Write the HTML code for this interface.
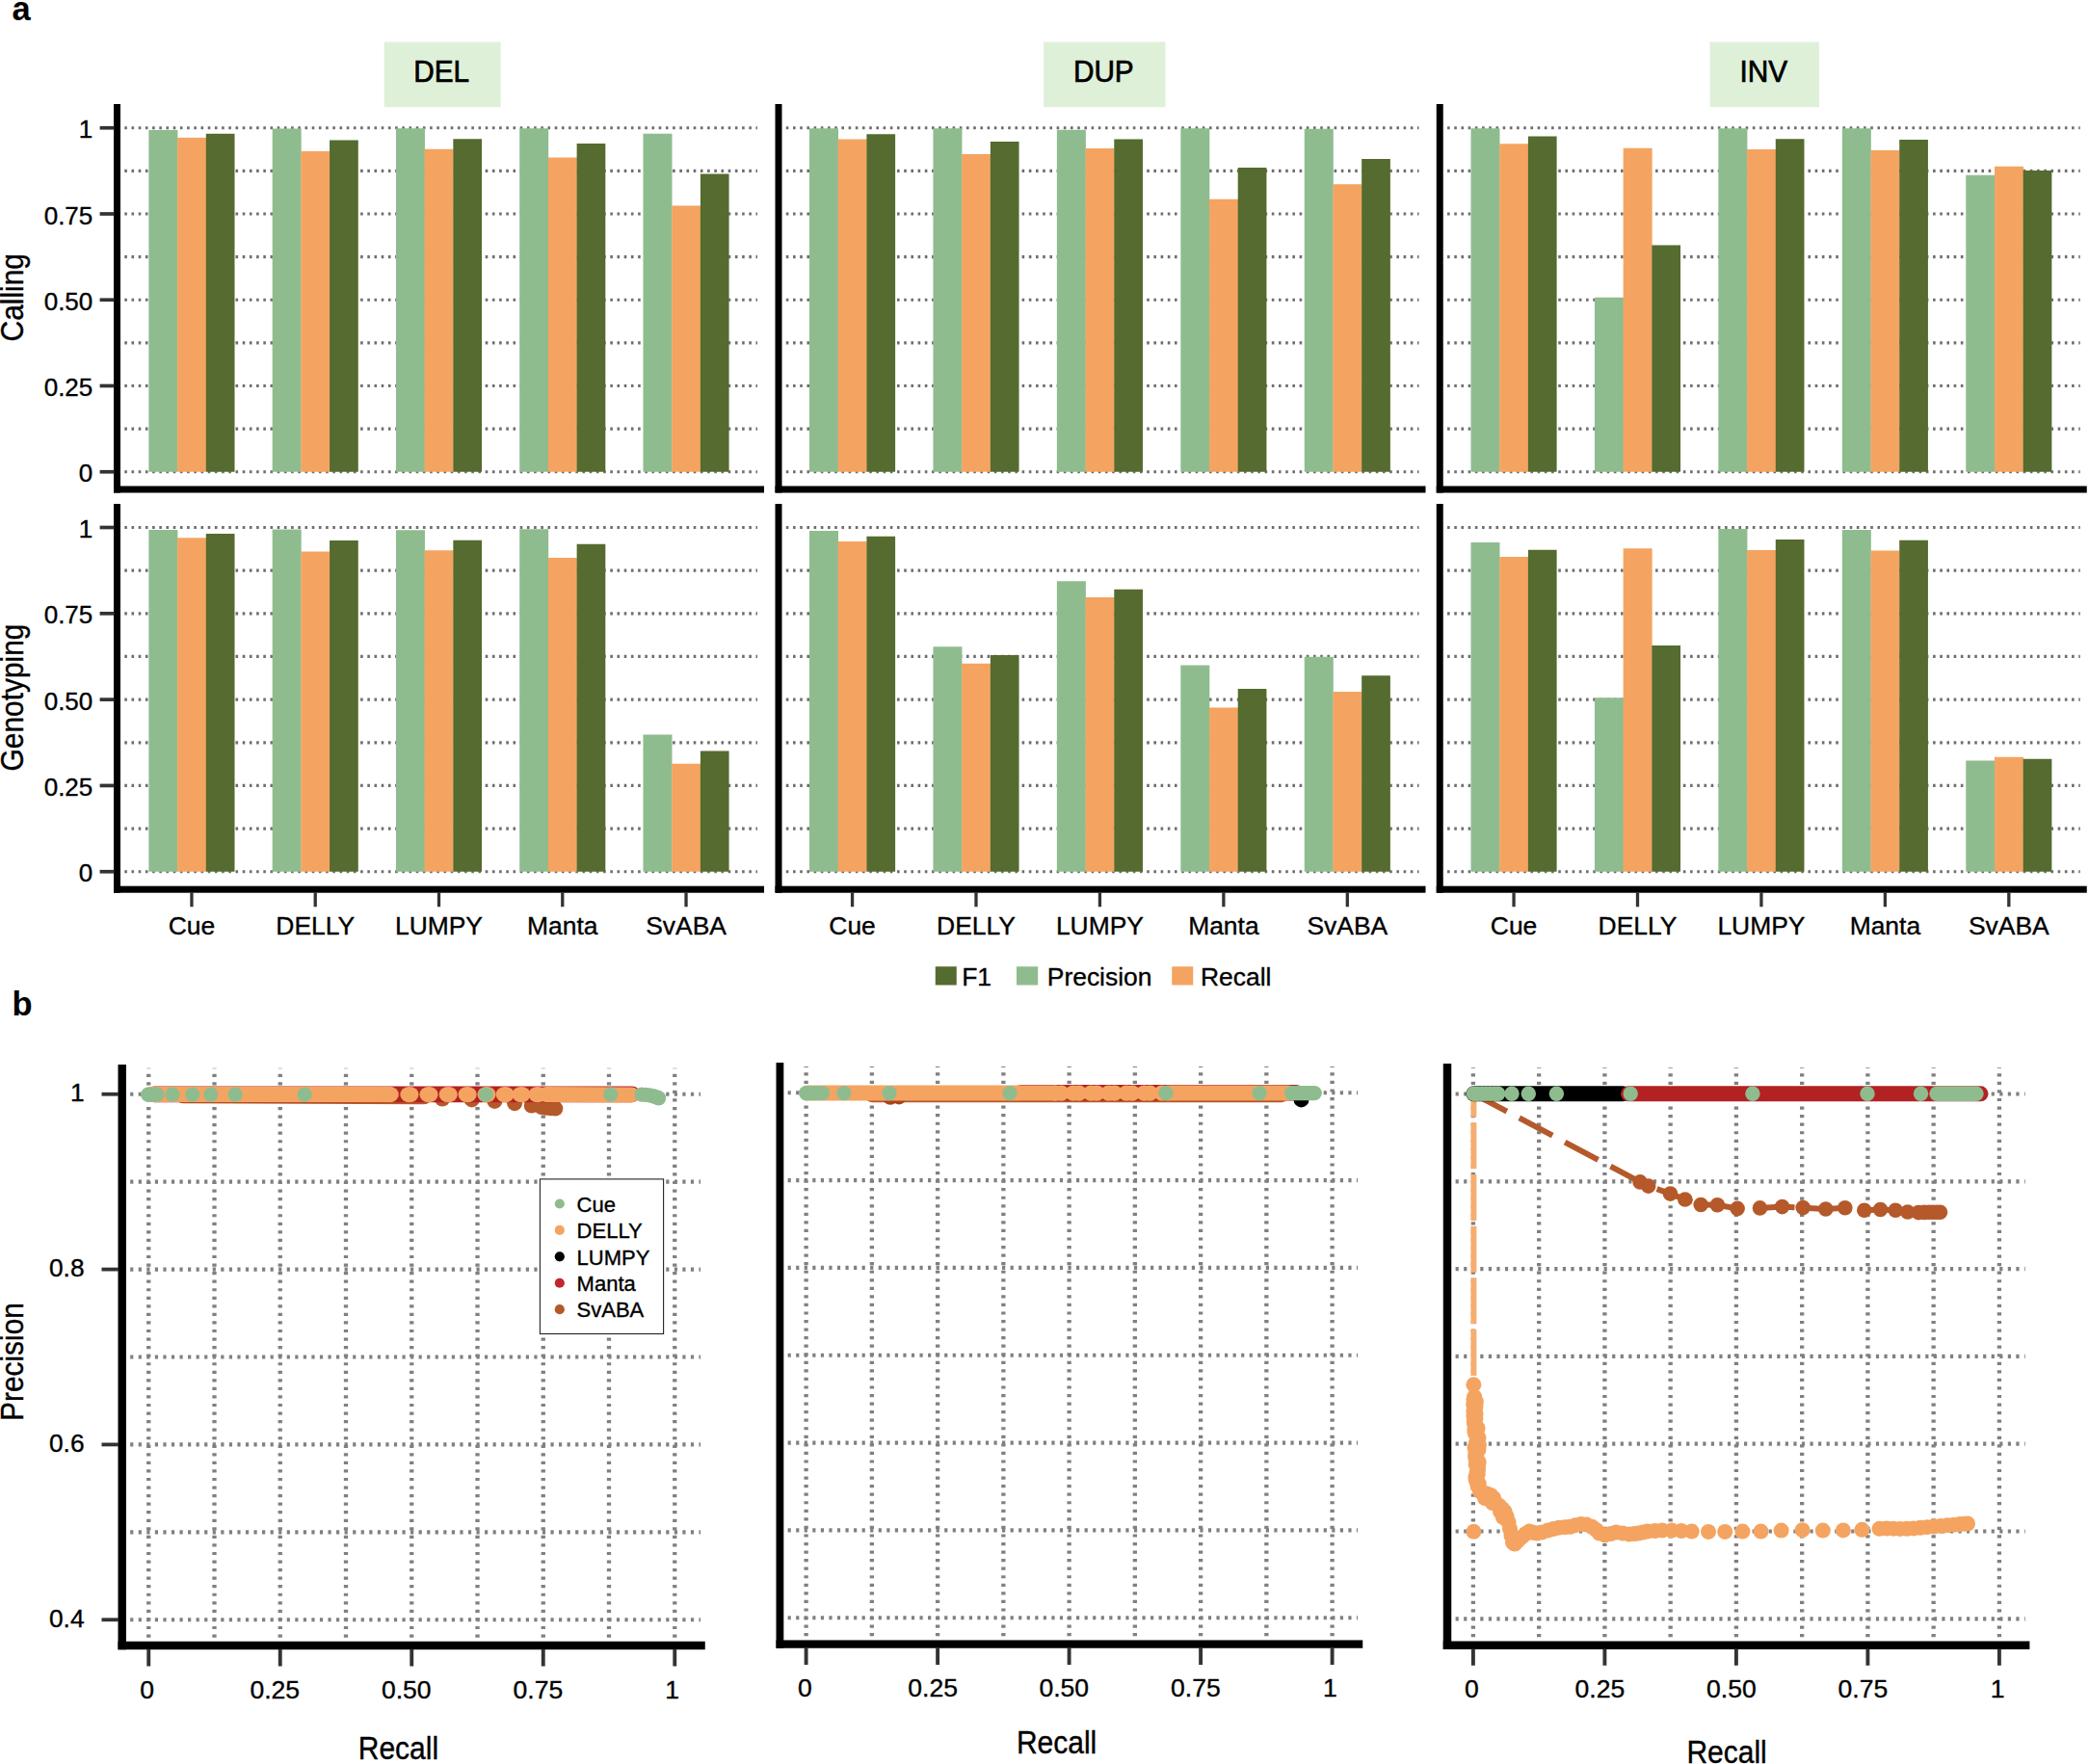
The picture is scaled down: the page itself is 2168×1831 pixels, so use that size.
<!DOCTYPE html>
<html lang="en"><head><meta charset="utf-8"><title>Figure</title>
<style>html,body{margin:0;padding:0;background:#fff}svg{display:block}text{stroke:#000;stroke-width:.35px}</style></head>
<body>
<svg width="2168" height="1831" viewBox="0 0 2168 1831" font-family="'Liberation Sans', Arial, Helvetica, sans-serif" fill="#000">
<text x="12.4" y="21.3" font-size="34.5" font-weight="bold" style="stroke:none">a</text>
<text x="12.5" y="1053.6" font-size="34.5" font-weight="bold" style="stroke:none">b</text>
<rect x="398.7" y="43.5" width="121" height="67.7" fill="#DFF0D8"/>
<text transform="translate(458.2 85.3) scale(0.945 1)" font-size="31.5" text-anchor="middle" style="stroke-width:.7px">DEL</text>
<rect x="1083.1" y="43.5" width="126.4" height="67.7" fill="#DFF0D8"/>
<text transform="translate(1145.3 85.3) scale(0.945 1)" font-size="31.5" text-anchor="middle" style="stroke-width:.7px">DUP</text>
<rect x="1774.6" y="43.5" width="113.4" height="67.7" fill="#DFF0D8"/>
<text transform="translate(1830.3 85.3) scale(0.945 1)" font-size="31.5" text-anchor="middle" style="stroke-width:.7px">INV</text>
<g stroke="#6e6e6e" stroke-width="3.2" stroke-dasharray="2.6 4.6">
<line x1="129.3" y1="489.75" x2="786" y2="489.75"/>
<line x1="129.3" y1="445.12" x2="786" y2="445.12"/>
<line x1="129.3" y1="400.5" x2="786" y2="400.5"/>
<line x1="129.3" y1="355.88" x2="786" y2="355.88"/>
<line x1="129.3" y1="311.25" x2="786" y2="311.25"/>
<line x1="129.3" y1="266.62" x2="786" y2="266.62"/>
<line x1="129.3" y1="222" x2="786" y2="222"/>
<line x1="129.3" y1="177.38" x2="786" y2="177.38"/>
<line x1="129.3" y1="132.75" x2="786" y2="132.75"/>
</g>
<rect x="154.4" y="134.9" width="30" height="354.85" fill="#8FBC8F"/>
<rect x="184.1" y="142.9" width="30" height="346.85" fill="#F4A460"/>
<rect x="213.8" y="138.8" width="29.7" height="350.95" fill="#556B2F"/>
<rect x="282.67" y="133.5" width="30" height="356.25" fill="#8FBC8F"/>
<rect x="312.37" y="157" width="30" height="332.75" fill="#F4A460"/>
<rect x="342.07" y="145.5" width="29.7" height="344.25" fill="#556B2F"/>
<rect x="410.94" y="133.25" width="30" height="356.5" fill="#8FBC8F"/>
<rect x="440.64" y="154.75" width="30" height="335" fill="#F4A460"/>
<rect x="470.34" y="144.25" width="29.7" height="345.5" fill="#556B2F"/>
<rect x="539.21" y="133.25" width="30" height="356.5" fill="#8FBC8F"/>
<rect x="568.91" y="163.5" width="30" height="326.25" fill="#F4A460"/>
<rect x="598.61" y="149" width="29.7" height="340.75" fill="#556B2F"/>
<rect x="667.48" y="138.75" width="30" height="351" fill="#8FBC8F"/>
<rect x="697.18" y="213.5" width="30" height="276.25" fill="#F4A460"/>
<rect x="726.88" y="180.5" width="29.7" height="309.25" fill="#556B2F"/>
<rect x="118" y="108" width="7" height="403.5" fill="#000"/>
<rect x="118" y="504.5" width="675" height="7" fill="#000"/>
<g stroke="#6e6e6e" stroke-width="3.2" stroke-dasharray="2.6 4.6">
<line x1="815.8" y1="489.75" x2="1472.5" y2="489.75"/>
<line x1="815.8" y1="445.12" x2="1472.5" y2="445.12"/>
<line x1="815.8" y1="400.5" x2="1472.5" y2="400.5"/>
<line x1="815.8" y1="355.88" x2="1472.5" y2="355.88"/>
<line x1="815.8" y1="311.25" x2="1472.5" y2="311.25"/>
<line x1="815.8" y1="266.62" x2="1472.5" y2="266.62"/>
<line x1="815.8" y1="222" x2="1472.5" y2="222"/>
<line x1="815.8" y1="177.38" x2="1472.5" y2="177.38"/>
<line x1="815.8" y1="132.75" x2="1472.5" y2="132.75"/>
</g>
<rect x="840" y="133.25" width="30" height="356.5" fill="#8FBC8F"/>
<rect x="869.7" y="144.5" width="30" height="345.25" fill="#F4A460"/>
<rect x="899.4" y="139.25" width="29.7" height="350.5" fill="#556B2F"/>
<rect x="968.44" y="133.25" width="30" height="356.5" fill="#8FBC8F"/>
<rect x="998.14" y="160" width="30" height="329.75" fill="#F4A460"/>
<rect x="1027.84" y="147" width="29.7" height="342.75" fill="#556B2F"/>
<rect x="1096.88" y="134.75" width="30" height="355" fill="#8FBC8F"/>
<rect x="1126.58" y="154" width="30" height="335.75" fill="#F4A460"/>
<rect x="1156.28" y="144.5" width="29.7" height="345.25" fill="#556B2F"/>
<rect x="1225.32" y="133.25" width="30" height="356.5" fill="#8FBC8F"/>
<rect x="1255.02" y="206.75" width="30" height="283" fill="#F4A460"/>
<rect x="1284.72" y="174" width="29.7" height="315.75" fill="#556B2F"/>
<rect x="1353.76" y="133.75" width="30" height="356" fill="#8FBC8F"/>
<rect x="1383.46" y="191.25" width="30" height="298.5" fill="#F4A460"/>
<rect x="1413.16" y="165" width="29.7" height="324.75" fill="#556B2F"/>
<rect x="804.5" y="108" width="7" height="403.5" fill="#000"/>
<rect x="804.5" y="504.5" width="675" height="7" fill="#000"/>
<g stroke="#6e6e6e" stroke-width="3.2" stroke-dasharray="2.6 4.6">
<line x1="1502.05" y1="489.75" x2="2158.75" y2="489.75"/>
<line x1="1502.05" y1="445.12" x2="2158.75" y2="445.12"/>
<line x1="1502.05" y1="400.5" x2="2158.75" y2="400.5"/>
<line x1="1502.05" y1="355.88" x2="2158.75" y2="355.88"/>
<line x1="1502.05" y1="311.25" x2="2158.75" y2="311.25"/>
<line x1="1502.05" y1="266.62" x2="2158.75" y2="266.62"/>
<line x1="1502.05" y1="222" x2="2158.75" y2="222"/>
<line x1="1502.05" y1="177.38" x2="2158.75" y2="177.38"/>
<line x1="1502.05" y1="132.75" x2="2158.75" y2="132.75"/>
</g>
<rect x="1526.5" y="133.25" width="30" height="356.5" fill="#8FBC8F"/>
<rect x="1556.2" y="149.25" width="30" height="340.5" fill="#F4A460"/>
<rect x="1585.9" y="141.5" width="29.7" height="348.25" fill="#556B2F"/>
<rect x="1654.94" y="308.75" width="30" height="181" fill="#8FBC8F"/>
<rect x="1684.64" y="153.75" width="30" height="336" fill="#F4A460"/>
<rect x="1714.34" y="254.5" width="29.7" height="235.25" fill="#556B2F"/>
<rect x="1783.38" y="133.25" width="30" height="356.5" fill="#8FBC8F"/>
<rect x="1813.08" y="155" width="30" height="334.75" fill="#F4A460"/>
<rect x="1842.78" y="144.25" width="29.7" height="345.5" fill="#556B2F"/>
<rect x="1911.82" y="133.25" width="30" height="356.5" fill="#8FBC8F"/>
<rect x="1941.52" y="156" width="30" height="333.75" fill="#F4A460"/>
<rect x="1971.22" y="145" width="29.7" height="344.75" fill="#556B2F"/>
<rect x="2040.26" y="181.75" width="30" height="308" fill="#8FBC8F"/>
<rect x="2069.96" y="172.75" width="30" height="317" fill="#F4A460"/>
<rect x="2099.66" y="177" width="29.7" height="312.75" fill="#556B2F"/>
<rect x="1490.75" y="108" width="7" height="403.5" fill="#000"/>
<rect x="1490.75" y="504.5" width="675" height="7" fill="#000"/>
<line x1="103.6" y1="489.75" x2="118.5" y2="489.75" stroke="#333" stroke-width="3.7"/>
<text transform="translate(96.3 500.25) scale(1.02 1)" font-size="25.5" text-anchor="end">0</text>
<line x1="103.6" y1="400.5" x2="118.5" y2="400.5" stroke="#333" stroke-width="3.7"/>
<text transform="translate(96.3 411) scale(1.02 1)" font-size="25.5" text-anchor="end">0.25</text>
<line x1="103.6" y1="311.25" x2="118.5" y2="311.25" stroke="#333" stroke-width="3.7"/>
<text transform="translate(96.3 321.75) scale(1.02 1)" font-size="25.5" text-anchor="end">0.50</text>
<line x1="103.6" y1="222" x2="118.5" y2="222" stroke="#333" stroke-width="3.7"/>
<text transform="translate(96.3 232.5) scale(1.02 1)" font-size="25.5" text-anchor="end">0.75</text>
<line x1="103.6" y1="132.75" x2="118.5" y2="132.75" stroke="#333" stroke-width="3.7"/>
<text transform="translate(96.3 143.25) scale(1.02 1)" font-size="25.5" text-anchor="end">1</text>
<g stroke="#6e6e6e" stroke-width="3.2" stroke-dasharray="2.6 4.6">
<line x1="129.3" y1="904.75" x2="786" y2="904.75"/>
<line x1="129.3" y1="860.09" x2="786" y2="860.09"/>
<line x1="129.3" y1="815.44" x2="786" y2="815.44"/>
<line x1="129.3" y1="770.78" x2="786" y2="770.78"/>
<line x1="129.3" y1="726.12" x2="786" y2="726.12"/>
<line x1="129.3" y1="681.47" x2="786" y2="681.47"/>
<line x1="129.3" y1="636.81" x2="786" y2="636.81"/>
<line x1="129.3" y1="592.16" x2="786" y2="592.16"/>
<line x1="129.3" y1="547.5" x2="786" y2="547.5"/>
</g>
<rect x="154.4" y="550" width="30" height="354.75" fill="#8FBC8F"/>
<rect x="184.1" y="558.25" width="30" height="346.5" fill="#F4A460"/>
<rect x="213.8" y="554" width="29.7" height="350.75" fill="#556B2F"/>
<rect x="282.67" y="549.5" width="30" height="355.25" fill="#8FBC8F"/>
<rect x="312.37" y="572.5" width="30" height="332.25" fill="#F4A460"/>
<rect x="342.07" y="561" width="29.7" height="343.75" fill="#556B2F"/>
<rect x="410.94" y="550.25" width="30" height="354.5" fill="#8FBC8F"/>
<rect x="440.64" y="571.25" width="30" height="333.5" fill="#F4A460"/>
<rect x="470.34" y="560.75" width="29.7" height="344" fill="#556B2F"/>
<rect x="539.21" y="549.25" width="30" height="355.5" fill="#8FBC8F"/>
<rect x="568.91" y="579" width="30" height="325.75" fill="#F4A460"/>
<rect x="598.61" y="564.75" width="29.7" height="340" fill="#556B2F"/>
<rect x="667.48" y="762.5" width="30" height="142.25" fill="#8FBC8F"/>
<rect x="697.18" y="792.75" width="30" height="112" fill="#F4A460"/>
<rect x="726.88" y="779.5" width="29.7" height="125.25" fill="#556B2F"/>
<rect x="118" y="523" width="7" height="403.7" fill="#000"/>
<rect x="118" y="919.7" width="675" height="7" fill="#000"/>
<line x1="198.95" y1="926.2" x2="198.95" y2="941.25" stroke="#333" stroke-width="3.3"/>
<text transform="translate(198.95 969.8) scale(0.99 1)" font-size="26.7" text-anchor="middle">Cue</text>
<line x1="327.22" y1="926.2" x2="327.22" y2="941.25" stroke="#333" stroke-width="3.3"/>
<text transform="translate(327.22 969.8) scale(0.99 1)" font-size="26.7" text-anchor="middle">DELLY</text>
<line x1="455.49" y1="926.2" x2="455.49" y2="941.25" stroke="#333" stroke-width="3.3"/>
<text transform="translate(455.49 969.8) scale(0.99 1)" font-size="26.7" text-anchor="middle">LUMPY</text>
<line x1="583.76" y1="926.2" x2="583.76" y2="941.25" stroke="#333" stroke-width="3.3"/>
<text transform="translate(583.76 969.8) scale(0.99 1)" font-size="26.7" text-anchor="middle">Manta</text>
<line x1="712.03" y1="926.2" x2="712.03" y2="941.25" stroke="#333" stroke-width="3.3"/>
<text transform="translate(712.03 969.8) scale(0.99 1)" font-size="26.7" text-anchor="middle">SvABA</text>
<g stroke="#6e6e6e" stroke-width="3.2" stroke-dasharray="2.6 4.6">
<line x1="815.8" y1="904.75" x2="1472.5" y2="904.75"/>
<line x1="815.8" y1="860.09" x2="1472.5" y2="860.09"/>
<line x1="815.8" y1="815.44" x2="1472.5" y2="815.44"/>
<line x1="815.8" y1="770.78" x2="1472.5" y2="770.78"/>
<line x1="815.8" y1="726.12" x2="1472.5" y2="726.12"/>
<line x1="815.8" y1="681.47" x2="1472.5" y2="681.47"/>
<line x1="815.8" y1="636.81" x2="1472.5" y2="636.81"/>
<line x1="815.8" y1="592.16" x2="1472.5" y2="592.16"/>
<line x1="815.8" y1="547.5" x2="1472.5" y2="547.5"/>
</g>
<rect x="840" y="551" width="30" height="353.75" fill="#8FBC8F"/>
<rect x="869.7" y="562" width="30" height="342.75" fill="#F4A460"/>
<rect x="899.4" y="556.75" width="29.7" height="348" fill="#556B2F"/>
<rect x="968.44" y="671.25" width="30" height="233.5" fill="#8FBC8F"/>
<rect x="998.14" y="688.75" width="30" height="216" fill="#F4A460"/>
<rect x="1027.84" y="680" width="29.7" height="224.75" fill="#556B2F"/>
<rect x="1096.88" y="603.25" width="30" height="301.5" fill="#8FBC8F"/>
<rect x="1126.58" y="620" width="30" height="284.75" fill="#F4A460"/>
<rect x="1156.28" y="611.75" width="29.7" height="293" fill="#556B2F"/>
<rect x="1225.32" y="690.5" width="30" height="214.25" fill="#8FBC8F"/>
<rect x="1255.02" y="734.5" width="30" height="170.25" fill="#F4A460"/>
<rect x="1284.72" y="715" width="29.7" height="189.75" fill="#556B2F"/>
<rect x="1353.76" y="681.75" width="30" height="223" fill="#8FBC8F"/>
<rect x="1383.46" y="718" width="30" height="186.75" fill="#F4A460"/>
<rect x="1413.16" y="701.25" width="29.7" height="203.5" fill="#556B2F"/>
<rect x="804.5" y="523" width="7" height="403.7" fill="#000"/>
<rect x="804.5" y="919.7" width="675" height="7" fill="#000"/>
<line x1="884.55" y1="926.2" x2="884.55" y2="941.25" stroke="#333" stroke-width="3.3"/>
<text transform="translate(884.55 969.8) scale(0.99 1)" font-size="26.7" text-anchor="middle">Cue</text>
<line x1="1012.99" y1="926.2" x2="1012.99" y2="941.25" stroke="#333" stroke-width="3.3"/>
<text transform="translate(1012.99 969.8) scale(0.99 1)" font-size="26.7" text-anchor="middle">DELLY</text>
<line x1="1141.43" y1="926.2" x2="1141.43" y2="941.25" stroke="#333" stroke-width="3.3"/>
<text transform="translate(1141.43 969.8) scale(0.99 1)" font-size="26.7" text-anchor="middle">LUMPY</text>
<line x1="1269.87" y1="926.2" x2="1269.87" y2="941.25" stroke="#333" stroke-width="3.3"/>
<text transform="translate(1269.87 969.8) scale(0.99 1)" font-size="26.7" text-anchor="middle">Manta</text>
<line x1="1398.31" y1="926.2" x2="1398.31" y2="941.25" stroke="#333" stroke-width="3.3"/>
<text transform="translate(1398.31 969.8) scale(0.99 1)" font-size="26.7" text-anchor="middle">SvABA</text>
<g stroke="#6e6e6e" stroke-width="3.2" stroke-dasharray="2.6 4.6">
<line x1="1502.05" y1="904.75" x2="2158.75" y2="904.75"/>
<line x1="1502.05" y1="860.09" x2="2158.75" y2="860.09"/>
<line x1="1502.05" y1="815.44" x2="2158.75" y2="815.44"/>
<line x1="1502.05" y1="770.78" x2="2158.75" y2="770.78"/>
<line x1="1502.05" y1="726.12" x2="2158.75" y2="726.12"/>
<line x1="1502.05" y1="681.47" x2="2158.75" y2="681.47"/>
<line x1="1502.05" y1="636.81" x2="2158.75" y2="636.81"/>
<line x1="1502.05" y1="592.16" x2="2158.75" y2="592.16"/>
<line x1="1502.05" y1="547.5" x2="2158.75" y2="547.5"/>
</g>
<rect x="1526.5" y="563" width="30" height="341.75" fill="#8FBC8F"/>
<rect x="1556.2" y="578" width="30" height="326.75" fill="#F4A460"/>
<rect x="1585.9" y="570.75" width="29.7" height="334" fill="#556B2F"/>
<rect x="1654.94" y="724.25" width="30" height="180.5" fill="#8FBC8F"/>
<rect x="1684.64" y="569.25" width="30" height="335.5" fill="#F4A460"/>
<rect x="1714.34" y="670" width="29.7" height="234.75" fill="#556B2F"/>
<rect x="1783.38" y="549" width="30" height="355.75" fill="#8FBC8F"/>
<rect x="1813.08" y="571" width="30" height="333.75" fill="#F4A460"/>
<rect x="1842.78" y="560" width="29.7" height="344.75" fill="#556B2F"/>
<rect x="1911.82" y="550" width="30" height="354.75" fill="#8FBC8F"/>
<rect x="1941.52" y="571.5" width="30" height="333.25" fill="#F4A460"/>
<rect x="1971.22" y="560.75" width="29.7" height="344" fill="#556B2F"/>
<rect x="2040.26" y="789.5" width="30" height="115.25" fill="#8FBC8F"/>
<rect x="2069.96" y="785.75" width="30" height="119" fill="#F4A460"/>
<rect x="2099.66" y="787.75" width="29.7" height="117" fill="#556B2F"/>
<rect x="1490.75" y="523" width="7" height="403.7" fill="#000"/>
<rect x="1490.75" y="919.7" width="675" height="7" fill="#000"/>
<line x1="1571.05" y1="926.2" x2="1571.05" y2="941.25" stroke="#333" stroke-width="3.3"/>
<text transform="translate(1571.05 969.8) scale(0.99 1)" font-size="26.7" text-anchor="middle">Cue</text>
<line x1="1699.49" y1="926.2" x2="1699.49" y2="941.25" stroke="#333" stroke-width="3.3"/>
<text transform="translate(1699.49 969.8) scale(0.99 1)" font-size="26.7" text-anchor="middle">DELLY</text>
<line x1="1827.93" y1="926.2" x2="1827.93" y2="941.25" stroke="#333" stroke-width="3.3"/>
<text transform="translate(1827.93 969.8) scale(0.99 1)" font-size="26.7" text-anchor="middle">LUMPY</text>
<line x1="1956.37" y1="926.2" x2="1956.37" y2="941.25" stroke="#333" stroke-width="3.3"/>
<text transform="translate(1956.37 969.8) scale(0.99 1)" font-size="26.7" text-anchor="middle">Manta</text>
<line x1="2084.81" y1="926.2" x2="2084.81" y2="941.25" stroke="#333" stroke-width="3.3"/>
<text transform="translate(2084.81 969.8) scale(0.99 1)" font-size="26.7" text-anchor="middle">SvABA</text>
<line x1="103.6" y1="904.75" x2="118.5" y2="904.75" stroke="#333" stroke-width="3.7"/>
<text transform="translate(96.3 915.25) scale(1.02 1)" font-size="25.5" text-anchor="end">0</text>
<line x1="103.6" y1="815.44" x2="118.5" y2="815.44" stroke="#333" stroke-width="3.7"/>
<text transform="translate(96.3 825.94) scale(1.02 1)" font-size="25.5" text-anchor="end">0.25</text>
<line x1="103.6" y1="726.12" x2="118.5" y2="726.12" stroke="#333" stroke-width="3.7"/>
<text transform="translate(96.3 736.62) scale(1.02 1)" font-size="25.5" text-anchor="end">0.50</text>
<line x1="103.6" y1="636.81" x2="118.5" y2="636.81" stroke="#333" stroke-width="3.7"/>
<text transform="translate(96.3 647.31) scale(1.02 1)" font-size="25.5" text-anchor="end">0.75</text>
<line x1="103.6" y1="547.5" x2="118.5" y2="547.5" stroke="#333" stroke-width="3.7"/>
<text transform="translate(96.3 558) scale(1.02 1)" font-size="25.5" text-anchor="end">1</text>
<text transform="translate(23.8 308.75) rotate(-90) scale(0.905 1)" font-size="33" text-anchor="middle">Calling</text>
<text transform="translate(23.8 724) rotate(-90) scale(0.905 1)" font-size="33" text-anchor="middle">Genotyping</text>
<rect x="970.75" y="1003.25" width="22" height="19.25" fill="#556B2F"/>
<text transform="translate(998.2 1023.25) scale(0.99 1)" font-size="26.7">F1</text>
<rect x="1055" y="1003.25" width="22.2" height="19.25" fill="#8FBC8F"/>
<text transform="translate(1086.8 1023.25) scale(0.99 1)" font-size="26.7">Precision</text>
<rect x="1216.25" y="1003.25" width="22" height="19.25" fill="#F4A460"/>
<text transform="translate(1246 1023.25) scale(0.99 1)" font-size="26.7">Recall</text>
<g stroke="#808080" stroke-dasharray="3.2 5.355">
<line x1="154.25" y1="1108.75" x2="154.25" y2="1700.25" stroke-width="4.3" stroke-dashoffset="2.6"/>
<line x1="222.5" y1="1108.75" x2="222.5" y2="1700.25" stroke-width="4.3" stroke-dashoffset="2.6"/>
<line x1="290.75" y1="1108.75" x2="290.75" y2="1700.25" stroke-width="4.3" stroke-dashoffset="2.6"/>
<line x1="359" y1="1108.75" x2="359" y2="1700.25" stroke-width="4.3" stroke-dashoffset="2.6"/>
<line x1="427.25" y1="1108.75" x2="427.25" y2="1700.25" stroke-width="4.3" stroke-dashoffset="2.6"/>
<line x1="495.5" y1="1108.75" x2="495.5" y2="1700.25" stroke-width="4.3" stroke-dashoffset="2.6"/>
<line x1="563.75" y1="1108.75" x2="563.75" y2="1700.25" stroke-width="4.3" stroke-dashoffset="2.6"/>
<line x1="632" y1="1108.75" x2="632" y2="1700.25" stroke-width="4.3" stroke-dashoffset="2.6"/>
<line x1="700.25" y1="1108.75" x2="700.25" y2="1700.25" stroke-width="4.3" stroke-dashoffset="2.6"/>
<line x1="135.15" y1="1135.75" x2="727" y2="1135.75" stroke-width="4.2"/>
<line x1="135.15" y1="1226.67" x2="727" y2="1226.67" stroke-width="4.2"/>
<line x1="135.15" y1="1317.58" x2="727" y2="1317.58" stroke-width="4.2"/>
<line x1="135.15" y1="1408.5" x2="727" y2="1408.5" stroke-width="4.2"/>
<line x1="135.15" y1="1499.42" x2="727" y2="1499.42" stroke-width="4.2"/>
<line x1="135.15" y1="1590.33" x2="727" y2="1590.33" stroke-width="4.2"/>
<line x1="135.15" y1="1681.25" x2="727" y2="1681.25" stroke-width="4.2"/>
</g>
<line x1="190" y1="1137.3" x2="440" y2="1138.3" stroke="#B5592A" stroke-width="16" stroke-linecap="round"/>
<circle cx="459.1" cy="1140.6" r="8" fill="#B5592A"/>
<circle cx="489.7" cy="1141.4" r="8" fill="#B5592A"/>
<circle cx="513.4" cy="1142.9" r="8" fill="#B5592A"/>
<circle cx="534.1" cy="1145.2" r="8" fill="#B5592A"/>
<circle cx="551.7" cy="1147.5" r="8" fill="#B5592A"/>
<circle cx="562" cy="1149" r="8" fill="#B5592A"/>
<circle cx="567.1" cy="1149.8" r="8" fill="#B5592A"/>
<circle cx="572" cy="1150.3" r="8" fill="#B5592A"/>
<circle cx="576.3" cy="1150.6" r="8" fill="#B5592A"/>
<line x1="160" y1="1135.8" x2="656" y2="1135.8" stroke="#B22222" stroke-width="16.8" stroke-linecap="round"/>
<line x1="156" y1="1136.1" x2="392" y2="1136.1" stroke="#F4A460" stroke-width="16" stroke-linecap="round"/>
<ellipse cx="404.2" cy="1136.1" rx="9.6" ry="8.2" fill="#F4A460"/>
<ellipse cx="424.9" cy="1136.1" rx="9.6" ry="8.2" fill="#F4A460"/>
<ellipse cx="445" cy="1136.1" rx="9.6" ry="8.2" fill="#F4A460"/>
<ellipse cx="465.2" cy="1136.1" rx="9.6" ry="8.2" fill="#F4A460"/>
<ellipse cx="485.1" cy="1136.1" rx="9.6" ry="8.2" fill="#F4A460"/>
<ellipse cx="505" cy="1136.1" rx="9.6" ry="8.2" fill="#F4A460"/>
<ellipse cx="524.2" cy="1136.1" rx="9.6" ry="8.2" fill="#F4A460"/>
<ellipse cx="541" cy="1136.1" rx="9.6" ry="8.2" fill="#F4A460"/>
<ellipse cx="557.9" cy="1136.1" rx="9.6" ry="8.2" fill="#F4A460"/>
<line x1="395" y1="1136.1" x2="404" y2="1136.1" stroke="#F4A460" stroke-width="16" stroke-linecap="round"/>
<line x1="567" y1="1136.1" x2="655.5" y2="1136.4" stroke="#F4A460" stroke-width="16" stroke-linecap="round"/>
<circle cx="153.7" cy="1136.1" r="7.7" fill="#8FBC8F"/>
<circle cx="156" cy="1136.1" r="7.7" fill="#8FBC8F"/>
<circle cx="158.5" cy="1136.1" r="7.7" fill="#8FBC8F"/>
<circle cx="161" cy="1136.1" r="7.7" fill="#8FBC8F"/>
<circle cx="162.9" cy="1136.1" r="7.7" fill="#8FBC8F"/>
<circle cx="179" cy="1136.1" r="7.7" fill="#8FBC8F"/>
<circle cx="199.7" cy="1136.1" r="7.7" fill="#8FBC8F"/>
<circle cx="218.8" cy="1136.1" r="7.7" fill="#8FBC8F"/>
<circle cx="244.1" cy="1136.1" r="7.7" fill="#8FBC8F"/>
<circle cx="316.1" cy="1136.1" r="7.7" fill="#8FBC8F"/>
<circle cx="504.3" cy="1136.1" r="7.7" fill="#8FBC8F"/>
<circle cx="633.7" cy="1136.1" r="7.7" fill="#8FBC8F"/>
<circle cx="666" cy="1136.1" r="7.7" fill="#8FBC8F"/>
<circle cx="670" cy="1136.4" r="7.7" fill="#8FBC8F"/>
<circle cx="674" cy="1136.9" r="7.7" fill="#8FBC8F"/>
<circle cx="678" cy="1137.7" r="7.7" fill="#8FBC8F"/>
<circle cx="681" cy="1138.7" r="7.7" fill="#8FBC8F"/>
<circle cx="683.5" cy="1139.8" r="7.7" fill="#8FBC8F"/>
<rect x="122.5" y="1105" width="8.4" height="607.25" fill="#000"/>
<rect x="122.5" y="1703.75" width="609.25" height="8.5" fill="#000"/>
<line x1="154.25" y1="1711.75" x2="154.25" y2="1729.5" stroke="#333" stroke-width="3.9"/>
<text transform="translate(152.5 1762.5) scale(1.02 1)" font-size="26" text-anchor="middle">0</text>
<line x1="290.75" y1="1711.75" x2="290.75" y2="1729.5" stroke="#333" stroke-width="3.9"/>
<text transform="translate(285.25 1762.5) scale(1.02 1)" font-size="26" text-anchor="middle">0.25</text>
<line x1="427.25" y1="1711.75" x2="427.25" y2="1729.5" stroke="#333" stroke-width="3.9"/>
<text transform="translate(421.75 1762.5) scale(1.02 1)" font-size="26" text-anchor="middle">0.50</text>
<line x1="563.75" y1="1711.75" x2="563.75" y2="1729.5" stroke="#333" stroke-width="3.9"/>
<text transform="translate(558.4 1762.5) scale(1.02 1)" font-size="26" text-anchor="middle">0.75</text>
<line x1="700.25" y1="1711.75" x2="700.25" y2="1729.5" stroke="#333" stroke-width="3.9"/>
<text transform="translate(697.5 1762.5) scale(1.02 1)" font-size="26" text-anchor="middle">1</text>
<text transform="translate(413.4 1826.25) scale(0.915 1)" font-size="32.8" text-anchor="middle">Recall</text>
<line x1="105.5" y1="1135.75" x2="123" y2="1135.75" stroke="#333" stroke-width="3.8"/>
<text transform="translate(87.5 1143.45) scale(1.03 1)" font-size="25.5" text-anchor="end">1</text>
<line x1="105.5" y1="1317.58" x2="123" y2="1317.58" stroke="#333" stroke-width="3.8"/>
<text transform="translate(87.5 1325.28) scale(1.03 1)" font-size="25.5" text-anchor="end">0.8</text>
<line x1="105.5" y1="1499.42" x2="123" y2="1499.42" stroke="#333" stroke-width="3.8"/>
<text transform="translate(87.5 1507.12) scale(1.03 1)" font-size="25.5" text-anchor="end">0.6</text>
<line x1="105.5" y1="1681.25" x2="123" y2="1681.25" stroke="#333" stroke-width="3.8"/>
<text transform="translate(87.5 1688.95) scale(1.03 1)" font-size="25.5" text-anchor="end">0.4</text>
<text transform="translate(23.5 1413.5) rotate(-90) scale(0.905 1)" font-size="33" text-anchor="middle">Precision</text>
<rect x="560.4" y="1223.9" width="128.2" height="160.6" fill="#fff" stroke="#222" stroke-width="1.1"/>
<circle cx="580.8" cy="1249.5" r="5.1" fill="#8FBC8F"/>
<text x="598.6" y="1257.8" font-size="22">Cue</text>
<circle cx="580.8" cy="1276.92" r="5.1" fill="#F4A460"/>
<text x="598.6" y="1285.22" font-size="22">DELLY</text>
<circle cx="580.8" cy="1304.34" r="5.1" fill="#000"/>
<text x="598.6" y="1312.64" font-size="22">LUMPY</text>
<circle cx="580.8" cy="1331.76" r="5.1" fill="#C1272D"/>
<text x="598.6" y="1340.06" font-size="22">Manta</text>
<circle cx="580.8" cy="1359.18" r="5.1" fill="#B5592A"/>
<text x="598.6" y="1367.48" font-size="22">SvABA</text>
<g stroke="#808080" stroke-dasharray="3.2 5.355">
<line x1="836.6" y1="1107" x2="836.6" y2="1698.95" stroke-width="4.3" stroke-dashoffset="2.25"/>
<line x1="904.85" y1="1107" x2="904.85" y2="1698.95" stroke-width="4.3" stroke-dashoffset="2.25"/>
<line x1="973.1" y1="1107" x2="973.1" y2="1698.95" stroke-width="4.3" stroke-dashoffset="2.25"/>
<line x1="1041.35" y1="1107" x2="1041.35" y2="1698.95" stroke-width="4.3" stroke-dashoffset="2.25"/>
<line x1="1109.6" y1="1107" x2="1109.6" y2="1698.95" stroke-width="4.3" stroke-dashoffset="2.25"/>
<line x1="1177.85" y1="1107" x2="1177.85" y2="1698.95" stroke-width="4.3" stroke-dashoffset="2.25"/>
<line x1="1246.1" y1="1107" x2="1246.1" y2="1698.95" stroke-width="4.3" stroke-dashoffset="2.25"/>
<line x1="1314.35" y1="1107" x2="1314.35" y2="1698.95" stroke-width="4.3" stroke-dashoffset="2.25"/>
<line x1="1382.6" y1="1107" x2="1382.6" y2="1698.95" stroke-width="4.3" stroke-dashoffset="2.25"/>
<line x1="817.6" y1="1134.25" x2="1409" y2="1134.25" stroke-width="4.2"/>
<line x1="817.6" y1="1225.08" x2="1409" y2="1225.08" stroke-width="4.2"/>
<line x1="817.6" y1="1315.92" x2="1409" y2="1315.92" stroke-width="4.2"/>
<line x1="817.6" y1="1406.75" x2="1409" y2="1406.75" stroke-width="4.2"/>
<line x1="817.6" y1="1497.58" x2="1409" y2="1497.58" stroke-width="4.2"/>
<line x1="817.6" y1="1588.42" x2="1409" y2="1588.42" stroke-width="4.2"/>
<line x1="817.6" y1="1679.25" x2="1409" y2="1679.25" stroke-width="4.2"/>
</g>
<line x1="905" y1="1136.2" x2="1330" y2="1136.2" stroke="#B5592A" stroke-width="16" stroke-linecap="round"/>
<circle cx="924" cy="1138.8" r="8" fill="#A8431F"/>
<circle cx="933" cy="1138.4" r="8" fill="#A8431F"/>
<line x1="1060" y1="1134.3" x2="1345" y2="1134.3" stroke="#B22222" stroke-width="16.6" stroke-linecap="round"/>
<circle cx="1350.5" cy="1141.4" r="8" fill="#000"/>
<line x1="838" y1="1134.6" x2="1095" y2="1134.6" stroke="#F4A460" stroke-width="16" stroke-linecap="round"/>
<circle cx="1095.4" cy="1134.6" r="8.2" fill="#F4A460"/>
<circle cx="1101.4" cy="1134.6" r="8.2" fill="#F4A460"/>
<circle cx="1113.8" cy="1134.6" r="8.2" fill="#F4A460"/>
<circle cx="1119.8" cy="1134.6" r="8.2" fill="#F4A460"/>
<circle cx="1132.2" cy="1134.6" r="8.2" fill="#F4A460"/>
<circle cx="1138.2" cy="1134.6" r="8.2" fill="#F4A460"/>
<circle cx="1150.6" cy="1134.6" r="8.2" fill="#F4A460"/>
<circle cx="1156.6" cy="1134.6" r="8.2" fill="#F4A460"/>
<circle cx="1169" cy="1134.6" r="8.2" fill="#F4A460"/>
<circle cx="1175" cy="1134.6" r="8.2" fill="#F4A460"/>
<circle cx="1187.4" cy="1134.6" r="8.2" fill="#F4A460"/>
<circle cx="1193.4" cy="1134.6" r="8.2" fill="#F4A460"/>
<circle cx="1205.8" cy="1134.6" r="8.2" fill="#F4A460"/>
<circle cx="1211.8" cy="1134.6" r="8.2" fill="#F4A460"/>
<line x1="1215" y1="1134.6" x2="1337" y2="1134.6" stroke="#F4A460" stroke-width="16" stroke-linecap="round"/>
<circle cx="836.6" cy="1134.6" r="7.7" fill="#8FBC8F"/>
<circle cx="839" cy="1134.6" r="7.7" fill="#8FBC8F"/>
<circle cx="842" cy="1134.6" r="7.7" fill="#8FBC8F"/>
<circle cx="846" cy="1134.6" r="7.7" fill="#8FBC8F"/>
<circle cx="850" cy="1134.6" r="7.7" fill="#8FBC8F"/>
<circle cx="853.5" cy="1134.6" r="7.7" fill="#8FBC8F"/>
<circle cx="875.9" cy="1134.6" r="7.7" fill="#8FBC8F"/>
<circle cx="923" cy="1134.6" r="7.7" fill="#8FBC8F"/>
<circle cx="1047.9" cy="1134.6" r="7.7" fill="#8FBC8F"/>
<circle cx="1210" cy="1134.6" r="7.7" fill="#8FBC8F"/>
<circle cx="1307.1" cy="1134.6" r="7.7" fill="#8FBC8F"/>
<line x1="1340.5" y1="1134.6" x2="1364.2" y2="1134.6" stroke="#8FBC8F" stroke-width="15.4" stroke-linecap="round"/>
<rect x="805.5" y="1103" width="7.8" height="607.75" fill="#000"/>
<rect x="805.5" y="1702.45" width="608.75" height="8.3" fill="#000"/>
<line x1="836.6" y1="1710.25" x2="836.6" y2="1728" stroke="#333" stroke-width="3.9"/>
<text transform="translate(835.25 1760.75) scale(1.02 1)" font-size="26" text-anchor="middle">0</text>
<line x1="973.1" y1="1710.25" x2="973.1" y2="1728" stroke="#333" stroke-width="3.9"/>
<text transform="translate(968.1 1760.75) scale(1.02 1)" font-size="26" text-anchor="middle">0.25</text>
<line x1="1109.6" y1="1710.25" x2="1109.6" y2="1728" stroke="#333" stroke-width="3.9"/>
<text transform="translate(1104.25 1760.75) scale(1.02 1)" font-size="26" text-anchor="middle">0.50</text>
<line x1="1246.1" y1="1710.25" x2="1246.1" y2="1728" stroke="#333" stroke-width="3.9"/>
<text transform="translate(1240.9 1760.75) scale(1.02 1)" font-size="26" text-anchor="middle">0.75</text>
<line x1="1382.6" y1="1710.25" x2="1382.6" y2="1728" stroke="#333" stroke-width="3.9"/>
<text transform="translate(1380.4 1760.75) scale(1.02 1)" font-size="26" text-anchor="middle">1</text>
<text transform="translate(1096.6 1819.5) scale(0.915 1)" font-size="32.8" text-anchor="middle">Recall</text>
<g stroke="#808080" stroke-dasharray="3.2 5.355">
<line x1="1528.9" y1="1108.2" x2="1528.9" y2="1700" stroke-width="4.3" stroke-dashoffset="2.5"/>
<line x1="1597.15" y1="1108.2" x2="1597.15" y2="1700" stroke-width="4.3" stroke-dashoffset="2.5"/>
<line x1="1665.4" y1="1108.2" x2="1665.4" y2="1700" stroke-width="4.3" stroke-dashoffset="2.5"/>
<line x1="1733.65" y1="1108.2" x2="1733.65" y2="1700" stroke-width="4.3" stroke-dashoffset="2.5"/>
<line x1="1801.9" y1="1108.2" x2="1801.9" y2="1700" stroke-width="4.3" stroke-dashoffset="2.5"/>
<line x1="1870.15" y1="1108.2" x2="1870.15" y2="1700" stroke-width="4.3" stroke-dashoffset="2.5"/>
<line x1="1938.4" y1="1108.2" x2="1938.4" y2="1700" stroke-width="4.3" stroke-dashoffset="2.5"/>
<line x1="2006.65" y1="1108.2" x2="2006.65" y2="1700" stroke-width="4.3" stroke-dashoffset="2.5"/>
<line x1="2074.9" y1="1108.2" x2="2074.9" y2="1700" stroke-width="4.3" stroke-dashoffset="2.5"/>
<line x1="1510.6" y1="1135.5" x2="2101.7" y2="1135.5" stroke-width="4.2"/>
<line x1="1510.6" y1="1226.3" x2="2101.7" y2="1226.3" stroke-width="4.2"/>
<line x1="1510.6" y1="1317.1" x2="2101.7" y2="1317.1" stroke-width="4.2"/>
<line x1="1510.6" y1="1407.9" x2="2101.7" y2="1407.9" stroke-width="4.2"/>
<line x1="1510.6" y1="1498.7" x2="2101.7" y2="1498.7" stroke-width="4.2"/>
<line x1="1510.6" y1="1589.5" x2="2101.7" y2="1589.5" stroke-width="4.2"/>
<line x1="1510.6" y1="1680.3" x2="2101.7" y2="1680.3" stroke-width="4.2"/>
</g>
<line x1="1529.4" y1="1135.3" x2="1529.4" y2="1428" stroke="#F5AE70" stroke-width="6" stroke-dasharray="48 5.7" stroke-dashoffset="23.75"/>
<polyline fill="none" stroke="#B5592A" stroke-width="6" stroke-dasharray="39 14.6" points="1529.4,1135.3 1702.1,1226.9 1710.7,1231.1 1733.5,1239.1 1748.8,1245 1765.2,1250.5 1782.4,1250.7 1803.1,1254.4 1826.5,1253.9 1849.6,1252.6 1871.2,1253.6 1894.8,1255 1914.8,1253.8 1934.8,1256.2 1951.5,1255.5 1967.2,1256.2 1979.8,1258 1991,1258.6 1997,1258.4 2002,1258.3 2006,1258.2 2010,1258.2 2013.5,1258.2"/>
<circle cx="1702.1" cy="1226.9" r="7.8" fill="#B5592A"/>
<circle cx="1710.7" cy="1231.1" r="7.8" fill="#B5592A"/>
<circle cx="1733.5" cy="1239.1" r="7.8" fill="#B5592A"/>
<circle cx="1748.8" cy="1245" r="7.8" fill="#B5592A"/>
<circle cx="1765.2" cy="1250.5" r="7.8" fill="#B5592A"/>
<circle cx="1782.4" cy="1250.7" r="7.8" fill="#B5592A"/>
<circle cx="1803.1" cy="1254.4" r="7.8" fill="#B5592A"/>
<circle cx="1826.5" cy="1253.9" r="7.8" fill="#B5592A"/>
<circle cx="1849.6" cy="1252.6" r="7.8" fill="#B5592A"/>
<circle cx="1871.2" cy="1253.6" r="7.8" fill="#B5592A"/>
<circle cx="1894.8" cy="1255" r="7.8" fill="#B5592A"/>
<circle cx="1914.8" cy="1253.8" r="7.8" fill="#B5592A"/>
<circle cx="1934.8" cy="1256.2" r="7.8" fill="#B5592A"/>
<circle cx="1951.5" cy="1255.5" r="7.8" fill="#B5592A"/>
<circle cx="1967.2" cy="1256.2" r="7.8" fill="#B5592A"/>
<circle cx="1979.8" cy="1258" r="7.8" fill="#B5592A"/>
<circle cx="1991" cy="1258.6" r="7.8" fill="#B5592A"/>
<circle cx="1997" cy="1258.4" r="7.8" fill="#B5592A"/>
<circle cx="2002" cy="1258.3" r="7.8" fill="#B5592A"/>
<circle cx="2006" cy="1258.2" r="7.8" fill="#B5592A"/>
<circle cx="2010" cy="1258.2" r="7.8" fill="#B5592A"/>
<circle cx="2013.5" cy="1258.2" r="7.8" fill="#B5592A"/>
<circle cx="1529.4" cy="1437.3" r="8" fill="#F4A460"/>
<circle cx="1530.15" cy="1450" r="8" fill="#F4A460"/>
<circle cx="1529.4" cy="1452.5" r="8" fill="#F4A460"/>
<circle cx="1531.88" cy="1455" r="8" fill="#F4A460"/>
<circle cx="1529.18" cy="1457.5" r="8" fill="#F4A460"/>
<circle cx="1531.49" cy="1460" r="8" fill="#F4A460"/>
<circle cx="1530.75" cy="1462.5" r="8" fill="#F4A460"/>
<circle cx="1529.35" cy="1465" r="8" fill="#F4A460"/>
<circle cx="1531.59" cy="1467.5" r="8" fill="#F4A460"/>
<circle cx="1529.41" cy="1470" r="8" fill="#F4A460"/>
<circle cx="1531.39" cy="1472.5" r="8" fill="#F4A460"/>
<circle cx="1529.72" cy="1475" r="8" fill="#F4A460"/>
<circle cx="1529.9" cy="1477.5" r="8" fill="#F4A460"/>
<circle cx="1531.59" cy="1480" r="8" fill="#F4A460"/>
<circle cx="1533.6" cy="1482.5" r="8" fill="#F4A460"/>
<circle cx="1530.3" cy="1485" r="8" fill="#F4A460"/>
<circle cx="1530.86" cy="1487.5" r="8" fill="#F4A460"/>
<circle cx="1532.87" cy="1490" r="8" fill="#F4A460"/>
<circle cx="1534.49" cy="1492.5" r="8" fill="#F4A460"/>
<circle cx="1532.79" cy="1495" r="8" fill="#F4A460"/>
<circle cx="1532" cy="1497.5" r="8" fill="#F4A460"/>
<circle cx="1534.86" cy="1500" r="8" fill="#F4A460"/>
<circle cx="1530.48" cy="1502.5" r="8" fill="#F4A460"/>
<circle cx="1534.46" cy="1505" r="8" fill="#F4A460"/>
<circle cx="1531.81" cy="1507.5" r="8" fill="#F4A460"/>
<circle cx="1531.19" cy="1510" r="8" fill="#F4A460"/>
<circle cx="1531.14" cy="1512.5" r="8" fill="#F4A460"/>
<circle cx="1532.13" cy="1515" r="8" fill="#F4A460"/>
<circle cx="1534.65" cy="1517.5" r="8" fill="#F4A460"/>
<circle cx="1531.68" cy="1520" r="8" fill="#F4A460"/>
<circle cx="1533.68" cy="1522.5" r="8" fill="#F4A460"/>
<circle cx="1534.04" cy="1525" r="8" fill="#F4A460"/>
<circle cx="1532.83" cy="1527.5" r="8" fill="#F4A460"/>
<circle cx="1533.76" cy="1530" r="8" fill="#F4A460"/>
<circle cx="1531.51" cy="1532.5" r="8" fill="#F4A460"/>
<circle cx="1531.57" cy="1535" r="8" fill="#F4A460"/>
<circle cx="1532.35" cy="1537.5" r="8" fill="#F4A460"/>
<circle cx="1534.71" cy="1540" r="8" fill="#F4A460"/>
<circle cx="1533.57" cy="1542.5" r="8" fill="#F4A460"/>
<circle cx="1536" cy="1548" r="8" fill="#F4A460"/>
<circle cx="1539" cy="1549" r="8" fill="#F4A460"/>
<circle cx="1543" cy="1550.5" r="8" fill="#F4A460"/>
<circle cx="1547" cy="1552" r="8" fill="#F4A460"/>
<circle cx="1550" cy="1555" r="8" fill="#F4A460"/>
<circle cx="1545" cy="1556" r="8" fill="#F4A460"/>
<circle cx="1541" cy="1555" r="8" fill="#F4A460"/>
<circle cx="1549" cy="1560" r="8" fill="#F4A460"/>
<circle cx="1553" cy="1561" r="8" fill="#F4A460"/>
<circle cx="1556" cy="1563" r="8" fill="#F4A460"/>
<circle cx="1559" cy="1566" r="8" fill="#F4A460"/>
<circle cx="1561.5" cy="1569" r="8" fill="#F4A460"/>
<circle cx="1557" cy="1569" r="8" fill="#F4A460"/>
<circle cx="1563.5" cy="1574" r="8" fill="#F4A460"/>
<circle cx="1560" cy="1575" r="8" fill="#F4A460"/>
<circle cx="1565.5" cy="1580" r="8" fill="#F4A460"/>
<circle cx="1567" cy="1587" r="8" fill="#F4A460"/>
<circle cx="1568.5" cy="1594" r="8" fill="#F4A460"/>
<circle cx="1570" cy="1601" r="8" fill="#F4A460"/>
<circle cx="1572" cy="1602.5" r="8" fill="#F4A460"/>
<circle cx="1575.5" cy="1599" r="8" fill="#F4A460"/>
<circle cx="1579.6" cy="1595.3" r="8" fill="#F4A460"/>
<circle cx="1583.5" cy="1592" r="8" fill="#F4A460"/>
<circle cx="1587.2" cy="1589.6" r="8" fill="#F4A460"/>
<circle cx="1591" cy="1590.8" r="8" fill="#F4A460"/>
<circle cx="1594.9" cy="1591.5" r="8" fill="#F4A460"/>
<circle cx="1600" cy="1590.5" r="8" fill="#F4A460"/>
<circle cx="1606.4" cy="1588.6" r="8" fill="#F4A460"/>
<circle cx="1612" cy="1587" r="8" fill="#F4A460"/>
<circle cx="1617.9" cy="1585.7" r="8" fill="#F4A460"/>
<circle cx="1624" cy="1585.2" r="8" fill="#F4A460"/>
<circle cx="1629.4" cy="1584.8" r="8" fill="#F4A460"/>
<circle cx="1635" cy="1583.2" r="8" fill="#F4A460"/>
<circle cx="1640.8" cy="1581.9" r="8" fill="#F4A460"/>
<circle cx="1646.5" cy="1582.6" r="8" fill="#F4A460"/>
<circle cx="1652.3" cy="1584.8" r="8" fill="#F4A460"/>
<circle cx="1656.5" cy="1588" r="8" fill="#F4A460"/>
<circle cx="1660" cy="1591.5" r="8" fill="#F4A460"/>
<circle cx="1665.7" cy="1593.4" r="8" fill="#F4A460"/>
<circle cx="1671.5" cy="1592" r="8" fill="#F4A460"/>
<circle cx="1677.2" cy="1590.5" r="8" fill="#F4A460"/>
<circle cx="1684" cy="1591.5" r="8" fill="#F4A460"/>
<circle cx="1690.6" cy="1592.4" r="8" fill="#F4A460"/>
<circle cx="1696" cy="1592" r="8" fill="#F4A460"/>
<circle cx="1700.2" cy="1591.5" r="8" fill="#F4A460"/>
<circle cx="1705" cy="1590.5" r="8" fill="#F4A460"/>
<circle cx="1709.8" cy="1589.6" r="8" fill="#F4A460"/>
<circle cx="1717.5" cy="1589" r="8" fill="#F4A460"/>
<circle cx="1725.1" cy="1588.6" r="8" fill="#F4A460"/>
<circle cx="1735" cy="1588.6" r="8" fill="#F4A460"/>
<circle cx="1745" cy="1589" r="8" fill="#F4A460"/>
<circle cx="1755.7" cy="1589.6" r="8" fill="#F4A460"/>
<circle cx="1773" cy="1589.9" r="8" fill="#F4A460"/>
<circle cx="1790.2" cy="1589.9" r="8" fill="#F4A460"/>
<circle cx="1808.4" cy="1589.6" r="8" fill="#F4A460"/>
<circle cx="1827.5" cy="1589.6" r="8" fill="#F4A460"/>
<circle cx="1848.6" cy="1588.6" r="8" fill="#F4A460"/>
<circle cx="1870.6" cy="1588.2" r="8" fill="#F4A460"/>
<circle cx="1891.8" cy="1588.6" r="8" fill="#F4A460"/>
<circle cx="1912.9" cy="1588.4" r="8" fill="#F4A460"/>
<circle cx="1932.4" cy="1587.8" r="8" fill="#F4A460"/>
<circle cx="1950.5" cy="1586.8" r="8" fill="#F4A460"/>
<circle cx="1958" cy="1586.5" r="8" fill="#F4A460"/>
<circle cx="1965" cy="1586.7" r="8" fill="#F4A460"/>
<circle cx="1972" cy="1586.9" r="8" fill="#F4A460"/>
<circle cx="1979" cy="1586.8" r="8" fill="#F4A460"/>
<circle cx="1986" cy="1586.4" r="8" fill="#F4A460"/>
<circle cx="1993" cy="1585.8" r="8" fill="#F4A460"/>
<circle cx="2000" cy="1585.2" r="8" fill="#F4A460"/>
<circle cx="2007" cy="1584.6" r="8" fill="#F4A460"/>
<circle cx="2014" cy="1583.9" r="8" fill="#F4A460"/>
<circle cx="2021" cy="1583.3" r="8" fill="#F4A460"/>
<circle cx="2028" cy="1582.7" r="8" fill="#F4A460"/>
<circle cx="2034" cy="1582.1" r="8" fill="#F4A460"/>
<circle cx="2039" cy="1581.7" r="8" fill="#F4A460"/>
<circle cx="2042" cy="1581.5" r="8" fill="#F4A460"/>
<circle cx="1529.4" cy="1589.8" r="8" fill="#F4A460"/>
<line x1="1529.4" y1="1135.3" x2="1684" y2="1135.3" stroke="#000" stroke-width="16" stroke-linecap="round"/>
<line x1="1690" y1="1135.3" x2="2055.5" y2="1135.3" stroke="#B22222" stroke-width="16" stroke-linecap="round"/>
<circle cx="1529.4" cy="1135.3" r="7.7" fill="#8FBC8F"/>
<circle cx="1533" cy="1135.3" r="7.7" fill="#8FBC8F"/>
<circle cx="1537.5" cy="1135.3" r="7.7" fill="#8FBC8F"/>
<circle cx="1542" cy="1135.3" r="7.7" fill="#8FBC8F"/>
<circle cx="1546.5" cy="1135.3" r="7.7" fill="#8FBC8F"/>
<circle cx="1551" cy="1135.3" r="7.7" fill="#8FBC8F"/>
<circle cx="1554.7" cy="1135.3" r="7.7" fill="#8FBC8F"/>
<circle cx="1569" cy="1135.3" r="7.7" fill="#8FBC8F"/>
<circle cx="1586.3" cy="1135.3" r="7.7" fill="#8FBC8F"/>
<circle cx="1615.4" cy="1135.3" r="7.7" fill="#8FBC8F"/>
<circle cx="1692.2" cy="1135.3" r="7.7" fill="#8FBC8F"/>
<circle cx="1818.9" cy="1135.3" r="7.7" fill="#8FBC8F"/>
<circle cx="1938" cy="1135.3" r="7.7" fill="#8FBC8F"/>
<circle cx="1993.5" cy="1135.3" r="7.7" fill="#8FBC8F"/>
<line x1="2010" y1="1135.3" x2="2051" y2="1135.3" stroke="#8FBC8F" stroke-width="15.4" stroke-linecap="round"/>
<rect x="1497.75" y="1104" width="8.5" height="608" fill="#000"/>
<rect x="1497.75" y="1703.5" width="608.65" height="8.5" fill="#000"/>
<line x1="1528.9" y1="1711.5" x2="1528.9" y2="1728.75" stroke="#333" stroke-width="3.9"/>
<text transform="translate(1527.4 1761.75) scale(1.02 1)" font-size="26" text-anchor="middle">0</text>
<line x1="1665.4" y1="1711.5" x2="1665.4" y2="1728.75" stroke="#333" stroke-width="3.9"/>
<text transform="translate(1660.4 1761.75) scale(1.02 1)" font-size="26" text-anchor="middle">0.25</text>
<line x1="1801.9" y1="1711.5" x2="1801.9" y2="1728.75" stroke="#333" stroke-width="3.9"/>
<text transform="translate(1796.9 1761.75) scale(1.02 1)" font-size="26" text-anchor="middle">0.50</text>
<line x1="1938.4" y1="1711.5" x2="1938.4" y2="1728.75" stroke="#333" stroke-width="3.9"/>
<text transform="translate(1933.4 1761.75) scale(1.02 1)" font-size="26" text-anchor="middle">0.75</text>
<line x1="2074.9" y1="1711.5" x2="2074.9" y2="1728.75" stroke="#333" stroke-width="3.9"/>
<text transform="translate(2073.2 1761.75) scale(1.02 1)" font-size="26" text-anchor="middle">1</text>
<text transform="translate(1792.1 1829.5) scale(0.915 1)" font-size="32.8" text-anchor="middle">Recall</text>
</svg>
</body></html>
